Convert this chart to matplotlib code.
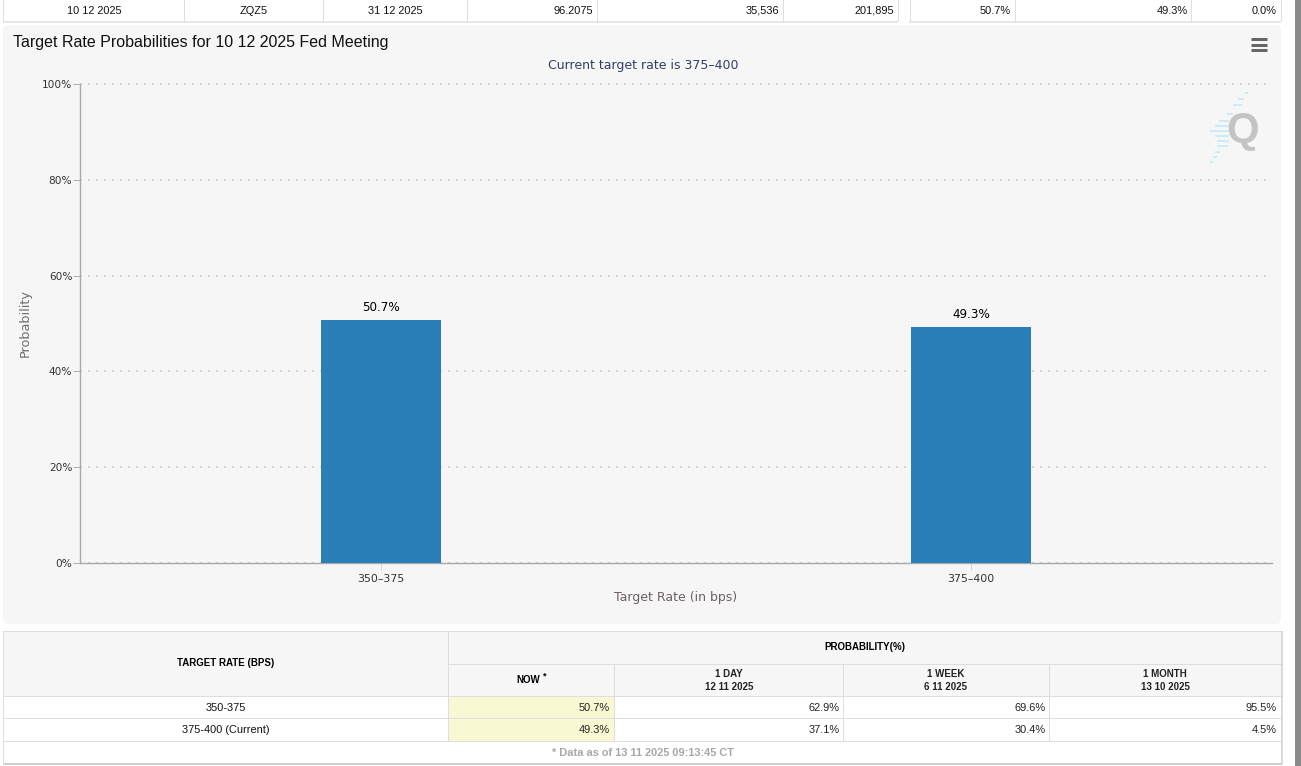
import matplotlib
matplotlib.use("Agg")
import matplotlib.pyplot as plt
from matplotlib.patches import Rectangle, FancyBboxPatch

W, H = 1301, 766
rates = ["350–375", "375–400"]
probabilities = [50.7, 49.3]
y_ticks = [0, 20, 40, 60, 80, 100]
top_cells = ["10 12 2025", "ZQZ5", "31 12 2025", "96.2075", "35,536", "201,895", "50.7%", "49.3%", "0.0%"]
rows_now = ["50.7%", "49.3%"]
rows_day = ["62.9%", "37.1%"]
rows_week = ["69.6%", "30.4%"]
rows_month = ["95.5%", "4.5%"]
row_labels = ["350-375", "375-400 (Current)"]

SANS = "Liberation Sans"
CHART = "DejaVu Sans"
LINE = "#dedede"
px = lambda p: p * 72 / 100

fig = plt.figure(figsize=(W / 100, H / 100), dpi=100, facecolor="white")
bg = fig.add_axes([0, 0, 1, 1], zorder=0)
bg.set_xlim(0, W); bg.set_ylim(H, 0); bg.axis("off")

def hl(y, x0, x1, c=LINE, lw=1.0):
    bg.plot([x0 - 1, x1 - 1], [y - 1, y - 1], color=c, lw=lw * 0.72, solid_capstyle="butt")

def vl(x, y0, y1, c=LINE, lw=1.0):
    bg.plot([x - 1, x - 1], [y0 - 1, y1 - 1], color=c, lw=lw * 0.72, solid_capstyle="butt")

def t(x, y, s, size=11, ha="center", color="black", weight="normal", family=SANS):
    bg.text(x, y, s, fontsize=px(size), ha=ha, va="center", color=color,
            fontweight=weight, family=family)

# top table strip
for x0, x1 in [(3.5, 899), (910, 1282)]:
    hl(22.5, x0, x1, lw=1.5)
    vl(x0 + 0.5, 0, 22); vl(x1 - 0.5, 0, 22)
for x in [184.5, 323.5, 467.5, 597.5, 783.5, 1015.5, 1191.5]:
    vl(x + 0.5, 0, 22)
top_pos = [(94, "center"), (254, "center"), (395, "center"), (593, "right"), (779, "right"),
           (894, "right"), (1011, "right"), (1188, "right"), (1277, "right")]
for (x, ha), s in zip(top_pos, top_cells):
    t(x, 10.5, s, ha=ha, color="#111111")

# chart panel
bg.add_patch(FancyBboxPatch((5, 27), 1274, 595, boxstyle="round,pad=0,rounding_size=3",
                            mutation_aspect=1, fc="#f6f6f6", ec="#f6f6f6", lw=4 * 0.72))
t(13, 42.5, "Target Rate Probabilities for 10 12 2025 Fed Meeting", size=16, ha="left", color="#111111")
t(643, 66, "Current target rate is 375–400", size=12.5, color="#333f66", family=CHART)
for y in [40, 45.5, 51]:
    hl(y, 1252, 1268, c="#666666", lw=3)

# right scrollbar sliver
bg.add_patch(Rectangle((1295, 0), 6, H, fc="#8a8a8a", ec="none"))

# watermark
stripes = [(93, 1245, 1248), (99, 1238, 1244), (105, 1233, 1242), (114, 1227, 1233), (121, 1219, 1229),
           (126, 1215, 1229), (131, 1210, 1229), (136, 1215, 1229), (141, 1217, 1229), (146, 1217, 1228),
           (152, 1215, 1220), (157, 1213, 1217), (162, 1210, 1213)]
for yy, x0, x1 in stripes:
    hl(yy + 1, x0 + 1, x1 + 1, c="#c9ecf6", lw=2)
bg.text(1243, 131, "Q", fontsize=px(42), ha="center", va="center", color="#c4c4c4",
        fontweight="bold", family=SANS, zorder=3)

# chart axes
L, R, T, B = 80, 1272, 84, 563
ax = fig.add_axes([L / W, 1 - B / H, (R - L) / W, (B - T) / H], zorder=1)
ax.patch.set_alpha(0)
xs = list(range(len(rates)))
ax.set_xlim((L - 381) / 590, (R - 381) / 590)
ax.set_ylim(0, 100)
ax.bar(xs, probabilities, width=120 / 590, color="#2a7fb8", zorder=3)
for x, v in zip(xs, probabilities):
    ax.annotate(f"{v}%", (x, v), xytext=(0, 6 * 0.72), textcoords="offset points", ha="center", va="bottom",
                fontsize=px(12), color="black", family=CHART)
ax.set_yticks(y_ticks)
ax.set_yticklabels([f"{v}%" for v in y_ticks], fontsize=px(10.5), color="#333333", family=CHART)
ax.set_xticks(xs)
ax.set_xticklabels(rates, fontsize=px(11), color="#333333", family=CHART)
ax.tick_params(axis="y", length=5, width=0.72, color="#b0b0b0", pad=0.5)
ax.tick_params(axis="x", length=5, width=0.72, color="#d8d8d8", pad=3)
ax.grid(axis="y", color="#d2d2d2", lw=1.44, linestyle=(0, (1, 3)), zorder=0, clip_on=False)
ax.set_axisbelow(True)
for s in ("top", "right"):
    ax.spines[s].set_visible(False)
for s in ("left", "bottom"):
    ax.spines[s].set_color("#aaaaaa"); ax.spines[s].set_linewidth(1.0)
bg.text(25, 323.5, "Probability", fontsize=px(12.8), rotation=90, ha="center", va="center",
        color="#6d6d6d", family=CHART)
t(676, 597.5, "Target Rate (in bps)", size=12.5, color="#6d6060", family=CHART)

# lower table
TX0, TX1 = 4, 1282.5
bg.add_patch(Rectangle((3, 631), 1278, 65, fc="#f7f7f7", ec="none"))
bg.add_patch(Rectangle((448, 696.5), 166.5, 44.5, fc="#f8f8d2", ec="none"))
hl(632, TX0, TX1)
hl(665, 449, TX1)
hl(697, TX0, TX1)
hl(719, TX0, TX1)
hl(742, TX0, TX1)
hl(764.5, TX0, TX1, c="#cfcfcf", lw=2)
vl(TX0, 632, 764.5); vl(TX1, 632, 764.5, c="#cfcfcf", lw=1.5)
vl(449, 632, 742)
for x in [615, 844, 1050]:
    vl(x, 665, 742)

t(226, 663, "TARGET RATE (BPS)", size=9.8, weight="bold")
t(865, 647.5, "PROBABILITY(%)", size=9.8, weight="bold")
t(528.5, 680, "NOW", size=9.8, weight="bold")
t(544.5, 676, "*", size=9, weight="bold")
for x, a, b in [(729, "1 DAY", "12 11 2025"), (946, "1 WEEK", "6 11 2025"), (1165, "1 MONTH", "13 10 2025")]:
    t(x, 674, a, size=9.8, weight="bold", color="#222222")
    t(x, 686.5, b, size=9.8, weight="bold", color="#222222")
for y, label, now, day, week, month in zip([708, 730], row_labels, rows_now, rows_day, rows_week, rows_month):
    t(226, y, label, color="#111111")
    t(610, y, now, ha="right", color="#222222")
    t(839.5, y, day, ha="right", color="#222222")
    t(1045.5, y, week, ha="right", color="#222222")
    t(1277, y, month, ha="right", color="#222222")
t(643, 752.5, "* Data as of 13 11 2025 09:13:45 CT", color="#a8a8a8", weight="bold")

fig.savefig("out.png", dpi=100, facecolor="white")
